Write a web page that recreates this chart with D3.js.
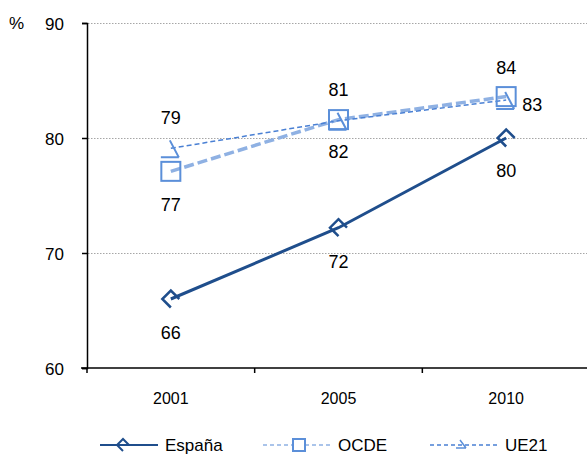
<!DOCTYPE html>
<html>
<head>
<script src="https://d3js.org/d3.v7.min.js"></script>
<style>
  body { margin: 0; background: #fff; }
  svg text { font-family: "Liberation Sans", Arial, sans-serif; fill: #000; }
</style>
</head>
<body>
<svg id="chart" width="587" height="456"></svg>
<script>
// data
const years = ['2001', '2005', '2010'];
const espana = [66, 72.2, 80];
const ocde = [77.1, 81.6, 83.6];
const ue21 = [79.1, 81.5, 83.3];
const espanaLabels = ['66', '72', '80'];
const ocdeLabels = ['77', '82', '84'];
const ue21Labels = ['79', '81', '83'];
const yTicks = [60, 70, 80, 90];

const svg = d3.select('#chart');
const plotLeft = 87, plotRight = 590, plotTop = 23, plotBottom = 368;

const x = d3.scaleBand().domain(years).range([plotLeft, plotRight]).padding(0);
const y = d3.scaleLinear().domain([60, 90]).range([plotBottom, plotTop]);
const cx = d => x(d) + x.bandwidth() / 2;

// gridlines
svg.append('g').selectAll('line')
  .data(yTicks.filter(t => t > 60))
  .enter().append('line')
  .attr('x1', plotLeft + 1).attr('x2', 587)
  .attr('y1', d => y(d) + 0.5).attr('y2', d => y(d) + 0.5)
  .attr('stroke', '#a6a6a6').attr('stroke-width', 1)
  .attr('stroke-dasharray', '1.5,1.5');

// y axis
const yAxis = svg.append('g')
  .attr('transform', `translate(${plotLeft},0)`)
  .call(d3.axisLeft(y).tickValues(yTicks).tickSize(5).tickPadding(18));
yAxis.select('.domain').attr('stroke', '#000').attr('stroke-width', 1.5);
yAxis.selectAll('.tick line').attr('stroke', '#000').attr('stroke-width', 1.5);
yAxis.selectAll('text').style('font-size', '17px').attr('dy', '0.38em')
  .style('font-family', '"Liberation Sans", Arial, sans-serif');

svg.append('text').text('%').attr('x', 9).attr('y', y(90) + 6).style('font-size', '17px');

// x axis
const xAxis = svg.append('g')
  .attr('transform', `translate(0,${plotBottom})`)
  .call(d3.axisBottom(x).tickSize(0).tickPadding(25));
xAxis.select('.domain').remove();
xAxis.selectAll('text').style('font-size', '16px').style('font-family', '"Liberation Sans", Arial, sans-serif');
svg.append('line').attr('x1', plotLeft - 6).attr('x2', 587)
  .attr('y1', plotBottom).attr('y2', plotBottom).attr('stroke', '#000').attr('stroke-width', 1.5);
svg.append('g').selectAll('line')
  .data(years).enter().append('line')
  .attr('x1', d => x(d)).attr('x2', d => x(d))
  .attr('y1', plotBottom).attr('y2', plotBottom + 5)
  .attr('stroke', '#000').attr('stroke-width', 1.5);

// markers
const diamondPath = 'M8.5,0 L0,-8.5 L-8.5,0 L0,8.5';
const uePath = 'M-1,-8 L8,9 M-10,9 L8,9';

function series(vals, color, width, dash) {
  const line = d3.line().x((d, i) => cx(years[i])).y(d => y(d));
  svg.append('path').datum(vals)
    .attr('d', line).attr('fill', 'none')
    .attr('stroke', color).attr('stroke-width', width)
    .attr('stroke-dasharray', dash);
}

series(ocde, '#8fb1e3', 3.5, '10,4');
series(ue21, '#4a80d4', 1.5, '5,3');
series(espana, '#1f4e8c', 3, null);

// OCDE squares
svg.append('g').selectAll('rect')
  .data(ocde).enter().append('rect')
  .attr('x', (d, i) => cx(years[i]) - 9.5).attr('y', d => y(d) - 9.5)
  .attr('width', 19).attr('height', 19)
  .attr('fill', 'none').attr('stroke', '#5b8fd9').attr('stroke-width', 2);

// UE21 markers
svg.append('g').selectAll('path')
  .data(ue21).enter().append('path')
  .attr('d', uePath)
  .attr('transform', (d, i) => `translate(${cx(years[i])},${y(d)})`)
  .attr('fill', 'none').attr('stroke', '#5b8fd9').attr('stroke-width', 2);

// España markers
svg.append('g').selectAll('path')
  .data(espana).enter().append('path')
  .attr('d', diamondPath)
  .attr('transform', (d, i) => `translate(${cx(years[i])},${y(d)})`)
  .attr('fill', 'none').attr('stroke', '#1f4e8c').attr('stroke-width', 2.5);

// data labels
function labels(vals, texts, dx, dy, anchor) {
  svg.append('g').selectAll('text')
    .data(vals).enter().append('text')
    .text((d, i) => texts[i])
    .attr('x', (d, i) => cx(years[i]) + dx[i])
    .attr('y', (d, i) => y(d) + dy[i])
    .attr('text-anchor', (d, i) => anchor[i])
    .style('font-size', '18px');
}
labels(espana, espanaLabels, [0, 0, 0], [40, 40, 39], ['middle', 'middle', 'middle']);
labels(ocde, ocdeLabels, [0, 0, 0], [40, 38, -23], ['middle', 'middle', 'middle']);
labels(ue21, ue21Labels, [0, 0, 16], [-24, -25, 11], ['middle', 'middle', 'start']);

// legend
const ly = 445;
const lg = svg.append('g');
lg.append('line').attr('x1', 100).attr('x2', 158).attr('y1', ly).attr('y2', ly)
  .attr('stroke', '#1f4e8c').attr('stroke-width', 2);
lg.append('path').attr('d', 'M6,0 L0,-6 L-6,0 L0,6').attr('transform', `translate(123,${ly})`)
  .attr('fill', 'none').attr('stroke', '#1f4e8c').attr('stroke-width', 2);
lg.append('text').text('España').attr('x', 165).attr('y', ly + 6).style('font-size', '17px');

lg.append('line').attr('x1', 263).attr('x2', 330).attr('y1', ly).attr('y2', ly)
  .attr('stroke', '#8fb1e3').attr('stroke-width', 1.5).attr('stroke-dasharray', '4,3');
lg.append('rect').attr('x', 293).attr('y', ly - 6).attr('width', 12).attr('height', 12)
  .attr('fill', '#fff').attr('stroke', '#5b8fd9').attr('stroke-width', 2);
lg.append('text').text('OCDE').attr('x', 338).attr('y', ly + 6).style('font-size', '17px');

lg.append('line').attr('x1', 430).attr('x2', 498).attr('y1', ly).attr('y2', ly)
  .attr('stroke', '#4a80d4').attr('stroke-width', 1.5).attr('stroke-dasharray', '4,3');
lg.append('path').attr('d', 'M-3,-5 L3,3 M-7,3 L3,3').attr('transform', `translate(463,${ly})`)
  .attr('fill', 'none').attr('stroke', '#5b8fd9').attr('stroke-width', 1.5);
lg.append('text').text('UE21').attr('x', 505).attr('y', ly + 6).style('font-size', '17px');
</script>
</body>
</html>
